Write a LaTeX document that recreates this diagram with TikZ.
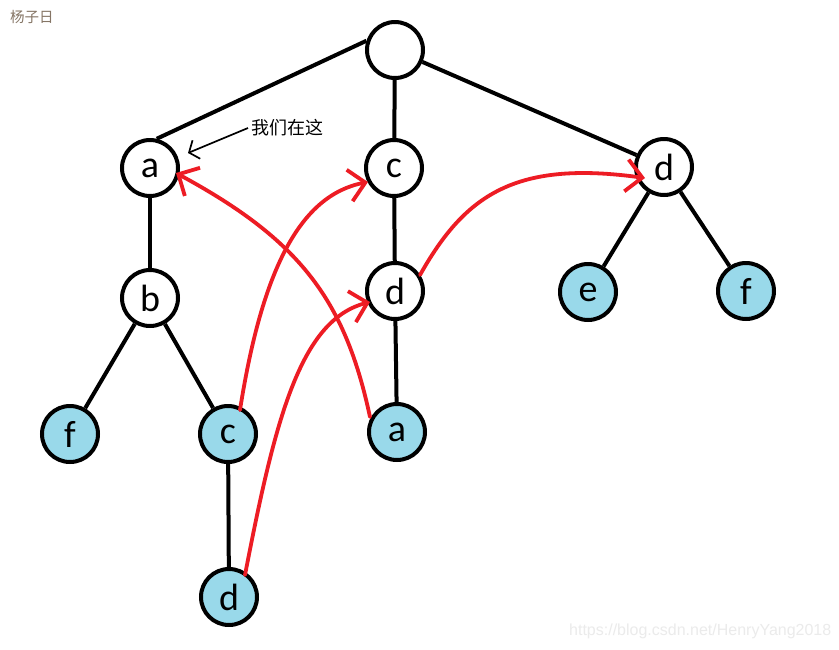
\documentclass[tikz,border=0pt]{standalone}
\usepackage{fontspec}
\usetikzlibrary{arrows.meta}
\newfontfamily\nodefont{Carlito}
\newfontfamily\cjkfont{Noto Sans CJK SC}
\newfontfamily\wmfont{Liberation Sans}
\definecolor{nodeblue}{HTML}{99D9EA}
\definecolor{paintred}{HTML}{ED1C24}
\definecolor{sigcolor}{HTML}{857565}
\definecolor{wmgray}{HTML}{EBEBEB}
\tikzset{
  tnode/.style={circle, draw=black, line width=4pt, fill=white, minimum size=56pt, inner sep=0pt,
    font=\nodefont\fontsize{38}{38}\selectfont},
  leafnode/.style={tnode, fill=nodeblue},
  edge/.style={line width=4pt, black},
  redarrow/.style={line width=3.8pt, paintred, line cap=round,
    -{Straight Barb[length=16pt,width=32pt,line width=3.8pt]}},
  notearrow/.style={line width=1.7pt, black, -{Straight Barb[length=8pt,width=20pt,line width=1.7pt]}},
}
\begin{document}
\begin{tikzpicture}[x=1pt,y=-1pt]
\useasboundingbox (0,0) rectangle (839,649);
\fill[white] (0,0) rectangle (839,649);

\coordinate (pRoot) at (395,50);
\coordinate (pA) at (150,168);
\coordinate (pC) at (394,168);
\coordinate (pD) at (664,167);
\coordinate (pB) at (150,298);
\coordinate (pDm) at (395,291);
\coordinate (pE) at (588,292);
\coordinate (pFr) at (746,291);
\coordinate (pFl) at (70,434);
\coordinate (pCb) at (228,434);
\coordinate (pAb) at (397,432);
\coordinate (pDb) at (229,597);

\node[tnode] (root) at (pRoot) {};
\node[tnode] (a) at (pA) {a};
\node[tnode] (c) at (pC) {c};
\node[tnode] (d) at (pD) {d};
\node[tnode] (b) at (pB) {b};
\node[tnode] (dm) at (pDm) {d};
\node[leafnode] (e) at (pE) {e};
\node[leafnode] (fr) at (pFr) {f};
\node[leafnode] (fl) at (pFl) {f};
\node[leafnode] (cb) at (pCb) {c};
\node[leafnode] (ab) at (pAb) {a};
\node[leafnode] (db) at (pDb) {d};

\draw[edge] (root.162) -- (a.77);
\draw[edge] (root) -- (c);
\draw[edge] (root) -- (d);
\draw[edge] (a) -- (b);
\draw[edge] (b) -- (fl);
\draw[edge] (b) -- (cb);
\draw[edge] (c) -- (dm);
\draw[edge] (dm) -- (ab);
\draw[edge] (d) -- (e);
\draw[edge] (d) -- (fr);
\draw[edge] (cb) -- (db);

% red arrows
\coordinate (r1s) at (240,410);
\coordinate (r1e) at (368,182);
\draw[redarrow] (r1s) .. controls (262,270) and (300,195) .. (r1e);
\coordinate (r2s) at (245,575);
\coordinate (r2e) at (370,302);
\draw[redarrow] (r2s) .. controls (275,420) and (300,320) .. (r2e);
\coordinate (r3s) at (370,417);
\coordinate (r3e) at (176,173);
\draw[redarrow] (r3s) .. controls (345,300) and (300,240) .. (r3e);
\coordinate (r4s) at (420,275);
\coordinate (r4e) at (645,178);
\draw[redarrow] (r4s) .. controls (465,195) and (515,160) .. (r4e);

% note
\node[anchor=west, inner sep=0pt, font=\cjkfont\fontsize{18}{18}\selectfont] (note) at (251,128) {我们在这};
\coordinate (notetip) at (188,153);
\draw[notearrow] (note.west) ++(-3,0) -- (notetip);

% signature and watermark
\node[anchor=west, inner sep=0pt, text=sigcolor, font=\cjkfont\fontsize{14.5}{14.5}\selectfont] (sig) at (10,17) {杨子日};
\node[anchor=west, inner sep=0pt, text=wmgray, font=\wmfont\fontsize{16}{16}\selectfont] (wm) at (569,631) {https://blog.csdn.net/HenryYang2018};
\end{tikzpicture}
\end{document}
